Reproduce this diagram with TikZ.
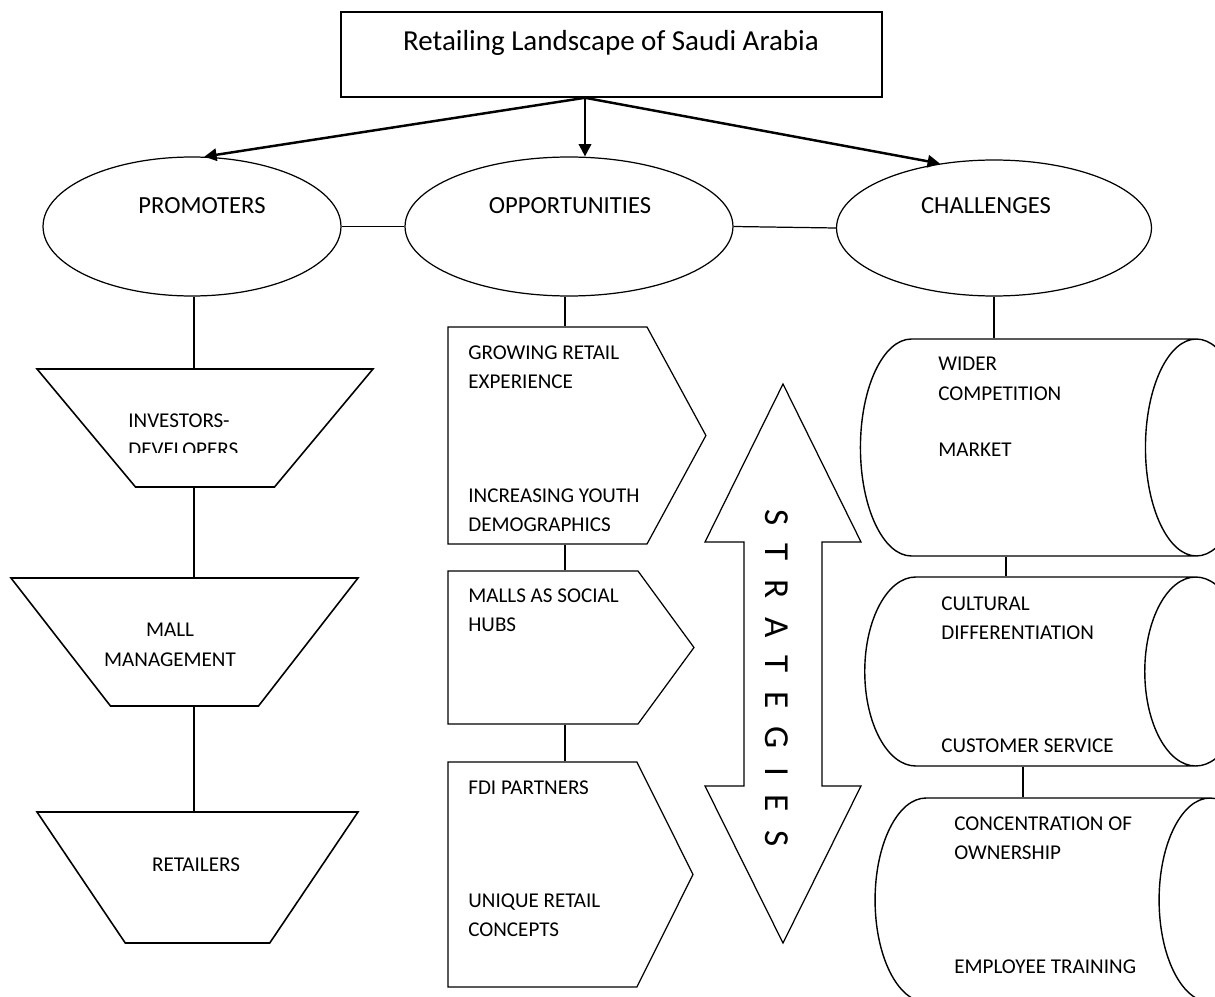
\documentclass[tikz,border=0pt]{standalone}
\usepackage{fontspec}
\setmainfont{Carlito}
\usetikzlibrary{shapes.geometric,shapes.symbols,arrows.meta}
\begin{document}
\begin{tikzpicture}[x=0.02cm,y=-0.02cm,
  shape line/.style={draw,line width=0.7pt,inner sep=1pt},
  head box/.style={shape line,rectangle,line width=0.9pt},
  oval/.style={shape line,ellipse},
  funnel/.style={shape line,trapezium,trapezium stretches=true,line width=0.9pt},
  flag/.style={shape line,signal,signal to=east,signal from=nowhere},
  drum/.style={shape line,cylinder,aspect=29,line width=0.8pt},
  link/.style={line width=0.7pt},
  branch/.style={line width=1.4pt,-{Triangle[length=7pt,width=7pt]}},
  big label/.style={font=\fontsize{14}{17}\selectfont,inner sep=0pt},
  item/.style={font=\fontsize{12}{16.7}\selectfont,align=left,inner sep=0pt,anchor=north west}]
\useasboundingbox (0,0) rectangle (1215,997);
\clip (0,0) rectangle (1215,997);
% top box and the three ovals
\node[head box,minimum width=10.82cm,minimum height=1.7cm] (title) at (611.5,54.5) {};
\node[font=\fontsize{16.5}{20}\selectfont,inner sep=0pt,anchor=base] (titletext) at (611,50.7) {Retailing Landscape of Saudi Arabia};
\node[oval,minimum width=5.96cm,minimum height=2.78cm] (prom) at (192,226.5) {};
\node[oval,minimum width=6.56cm,minimum height=2.78cm] (opp) at (569,226.5) {};
\node[oval,minimum width=6.3cm,minimum height=2.72cm] (chal) at (994,228) {};
\node[big label] (promtext) at (202,205.5) {PROMOTERS};
\node[big label] (opptext) at (570,205.5) {OPPORTUNITIES};
\node[big label] (chaltext) at (986,205.5) {CHALLENGES};
% promoters column
\node[funnel,minimum width=6.72cm,minimum height=2.36cm,trapezium angle=125.3] (inv) at (205,428) {};
\node[funnel,minimum width=6.94cm,minimum height=2.56cm,trapezium angle=123.9] (mall) at (184.5,642) {};
\node[funnel,minimum width=6.42cm,minimum height=2.62cm,trapezium angle=121.4] (ret) at (197.5,877.5) {};
% opportunities column
\node[flag,minimum width=5.16cm,minimum height=4.34cm,signal pointer angle=123] (gro) at (547.5,435.5) {};
\node[flag,minimum width=4.92cm,minimum height=3.06cm,signal pointer angle=107.6] (hub) at (543,647.5) {};
\node[flag,minimum width=4.9cm,minimum height=4.5cm,signal pointer angle=127] (fdi) at (542.5,874.5) {};
% challenges column
\node[drum,minimum height=7.74cm,minimum width=4.34cm] (wider) at (1023.5,447.5) {};
\node[drum,minimum height=7.64cm,minimum width=3.78cm] (cult) at (1025,671.5) {};
\node[drum,minimum height=7.72cm,minimum width=4.08cm] (conc) at (1037.5,900) {};
% strategies arrow
\draw[line width=0.7pt] (783,384) -- (861,542) -- (822,542) -- (822,786) -- (861,786)
  -- (783,943) -- (705,786) -- (744,786) -- (744,542) -- (705,542) -- cycle;
\node[rotate=-90,font=\fontsize{20}{24}\selectfont,inner sep=0pt] (strattext) at (776.5,678) {\spaceskip=10.5pt S T R A T E G I E S};
% connectors
\coordinate (fork) at ([xshift=-0.53cm]title.south);
\coordinate (pcol) at (194,0);
\coordinate (ocol) at (565,0);
\coordinate (ccol) at (1006,0);
\coordinate (dcol) at (1023,0);
\draw[branch] (fork) -- (prom.80);
\draw[branch] (fork) -- (fork |- opp.north);
\draw[branch] (fork) -- (chal.130);
\draw[link] (prom.east) -- (opp.west);
\draw[link] (opp.east) -- (chal.west);
\draw[link] (pcol |- prom.south) -- (pcol |- inv.north);
\draw[link] (pcol |- inv.south) -- (pcol |- mall.north);
\draw[link] (pcol |- mall.south) -- (pcol |- ret.north);
\draw[link] (ocol |- opp.south) -- (ocol |- gro.north);
\draw[link] (ocol |- gro.south) -- (ocol |- hub.north);
\draw[link] (ocol |- hub.south) -- (ocol |- fdi.north);
\draw[link] (chal.south) -- (chal.south |- wider.north);
\draw[link] (ccol |- wider.south) -- (ccol |- cult.north);
\draw[link] (dcol |- cult.south) -- (dcol |- conc.north);
% texts
\begin{scope}
\clip (0,0) rectangle (1215,452);
\node[item] (invtext) at (128,413) {INVESTORS-\\DEVELOPERS};
\end{scope}
\node[item,align=center,anchor=north] (malltext) at (170,623) {MALL\\MANAGEMENT};
\node[item,anchor=north] (rettext) at (196,857) {RETAILERS};
\node[item] (grotext) at (468,345) {GROWING RETAIL\\EXPERIENCE};
\node[item] (youtext) at (468,488) {INCREASING YOUTH\\DEMOGRAPHICS};
\node[item] (hubtext) at (468,588) {MALLS AS SOCIAL\\HUBS};
\node[item] (fditext) at (468,780) {FDI PARTNERS};
\node[item] (unitext) at (468,893) {UNIQUE RETAIL\\CONCEPTS};
\node[item] (widtext) at (938,357) {WIDER\\COMPETITION};
\node[item] (mkttext) at (938,443) {MARKET};
\node[item] (culttext) at (941,596) {CULTURAL\\DIFFERENTIATION};
\node[item] (custtext) at (941,738) {CUSTOMER SERVICE};
\node[item] (conctext) at (954,816) {CONCENTRATION OF\\OWNERSHIP};
\node[item] (emptext) at (954,959) {EMPLOYEE TRAINING};
\end{tikzpicture}
\end{document}
